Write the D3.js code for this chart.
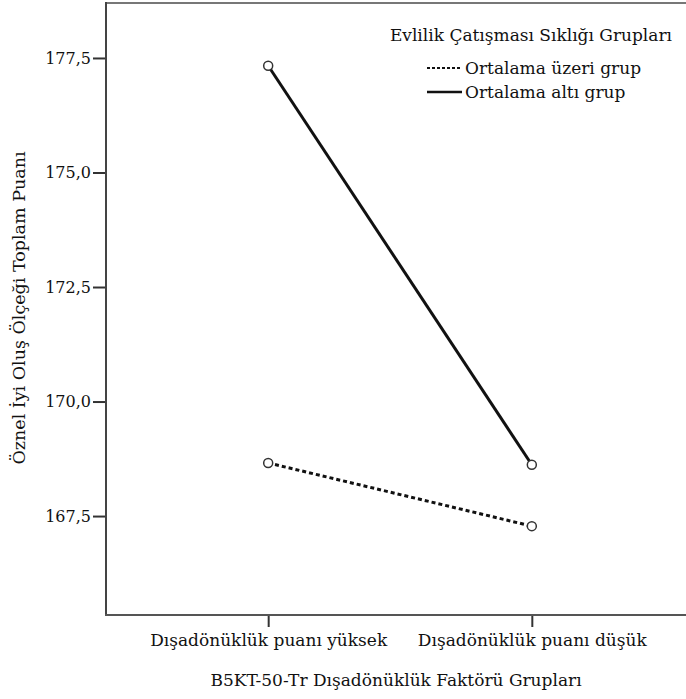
<!DOCTYPE html>
<html>
<head>
<meta charset="utf-8">
<script src="https://cdn.jsdelivr.net/npm/d3@7"></script>
<style>
  body { margin: 0; background: #fff; }
  svg text { font-family: "DejaVu Serif", "Liberation Serif", serif; fill: #111; }
</style>
</head>
<body>
<div id="chart"></div>
<script>
// data
let groups = ['Dışadönüklük puanı yüksek', 'Dışadönüklük puanı düşük'];
let seriesNames = ['Ortalama üzeri grup', 'Ortalama altı grup'];
let aboveValues = [168.66, 167.28];   // dashed
let belowValues = [177.33, 168.62];   // solid
let yTicks = [167.5, 170.0, 172.5, 175.0, 177.5];
let yTickLabels = ['167,5', '170,0', '172,5', '175,0', '177,5'];

let width = 686, height = 699;
let plotLeft = 106, plotTop = 3, plotRight = 688, plotBottom = 615;

var svg = d3.select('#chart').append('svg')
    .attr('width', width)
    .attr('height', height);

let xScale = d3.scalePoint()
    .domain(groups)
    .range([110, 690])
    .padding(0.6);

let yScale = d3.scaleLinear()
    .domain([165.34, 178.7])
    .range([plotBottom, plotTop]);

// frame top line
svg.append('line')
    .attr('x1', plotLeft).attr('x2', plotRight)
    .attr('y1', plotTop).attr('y2', plotTop)
    .attr('stroke', '#777').attr('stroke-width', 2);

var yAxis = d3.axisLeft(yScale)
    .tickValues(yTicks)
    .tickFormat((d, i) => yTickLabels[i])
    .tickSize(13)
    .tickPadding(2);
var gy = svg.append('g')
    .attr('transform', 'translate(' + plotLeft + ',0)')
    .call(yAxis);
gy.select('.domain').remove();
gy.selectAll('.tick line').attr('stroke', '#333').attr('stroke-width', 2);
gy.selectAll('.tick text').style('font-size', '16px').attr('fill', '#111');

var xAxis = d3.axisBottom(xScale).tickSize(12).tickPadding(7);
var gx = svg.append('g')
    .attr('transform', 'translate(0,' + plotBottom + ')')
    .call(xAxis);
gx.select('.domain').remove();
gx.selectAll('.tick line').attr('stroke', '#333').attr('stroke-width', 2);
gx.selectAll('.tick text').style('font-size', '17px').attr('fill', '#111');

// left and bottom axis lines
svg.append('line')
    .attr('x1', plotLeft).attr('x2', plotLeft)
    .attr('y1', plotTop - 1).attr('y2', plotBottom + 1)
    .attr('stroke', '#444').attr('stroke-width', 2);
svg.append('line')
    .attr('x1', plotLeft - 1).attr('x2', plotRight)
    .attr('y1', plotBottom).attr('y2', plotBottom)
    .attr('stroke', '#555').attr('stroke-width', 2);

let line = d3.line()
    .x((d, i) => xScale(groups[i]))
    .y(d => yScale(d));

svg.append('path')
    .datum(aboveValues)
    .attr('d', line)
    .attr('fill', 'none')
    .attr('stroke', '#111')
    .attr('stroke-width', 3)
    .attr('stroke-dasharray', '4,3');

svg.append('path')
    .datum(belowValues)
    .attr('d', line)
    .attr('fill', 'none')
    .attr('stroke', '#111')
    .attr('stroke-width', 3);

[aboveValues, belowValues].forEach(vals => {
  svg.selectAll(null)
      .data(vals)
      .enter()
      .append('circle')
      .attr('cx', (d, i) => xScale(groups[i]))
      .attr('cy', d => yScale(d))
      .attr('r', 4.5)
      .attr('fill', '#fff')
      .attr('stroke', '#333')
      .attr('stroke-width', 1.5);
});

// axis titles
svg.append('text')
    .attr('x', (plotLeft + 686) / 2)
    .attr('y', 686)
    .attr('text-anchor', 'middle')
    .style('font-size', '17px')
    .text('B5KT-50-Tr Dışadönüklük Faktörü Grupları');

svg.append('text')
    .attr('transform', 'translate(25,308) rotate(-90)')
    .attr('text-anchor', 'middle')
    .style('font-size', '17.5px')
    .text('Öznel İyi Oluş Ölçeği Toplam Puanı');

// legend
var legend = svg.append('g');
legend.append('text')
    .attr('x', 672).attr('y', 41)
    .attr('text-anchor', 'end')
    .style('font-size', '17px')
    .text('Evlilik Çatışması Sıklığı Grupları');

seriesNames.forEach((name, i) => {
  let y = 68 + i * 24;
  legend.append('line')
      .attr('x1', 427).attr('x2', 462)
      .attr('y1', y).attr('y2', y)
      .attr('stroke', '#111')
      .attr('stroke-width', i == 0 ? 2 : 2.5)
      .attr('stroke-dasharray', i == 0 ? '3,2' : null);
  legend.append('text')
      .attr('x', 465).attr('y', y + 6)
      .style('font-size', '17px')
      .text(name);
});
</script>
</body>
</html>
